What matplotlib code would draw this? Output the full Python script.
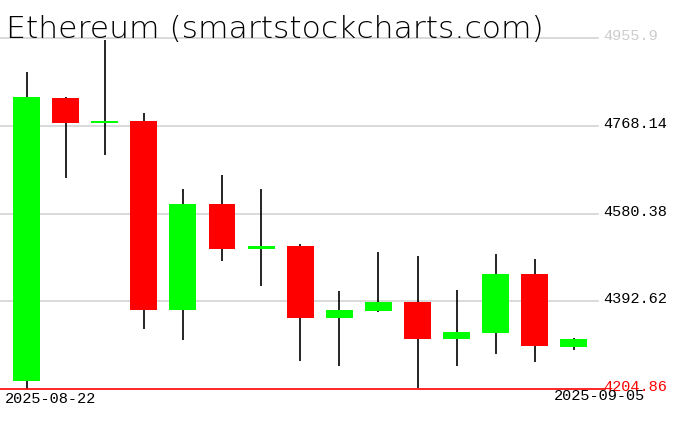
import matplotlib
matplotlib.use("Agg")
import matplotlib.pyplot as plt
import matplotlib.transforms as mtransforms
from matplotlib import font_manager

# Data
dates = ["2025-08-22", "2025-08-23", "2025-08-24", "2025-08-25", "2025-08-26",
         "2025-08-27", "2025-08-28", "2025-08-29", "2025-08-30", "2025-08-31",
         "2025-09-01", "2025-09-02", "2025-09-03", "2025-09-04", "2025-09-05"]
opens = [4223.3, 4827.6, 4774.5, 4778.5, 4375.1, 4601.0, 4504.8, 4511.2,
         4358.0, 4372.9, 4391.5, 4313.1, 4325.9, 4451.4, 4296.0]
closes = [4829.8, 4774.8, 4779.0, 4375.1, 4601.0, 4504.8, 4511.2, 4358.0,
          4374.4, 4391.5, 4313.1, 4327.4, 4451.4, 4298.1, 4312.4]
highs = [4883.2, 4829.0, 4951.0, 4795.6, 4633.1, 4663.0, 4633.1, 4515.5,
         4415.7, 4499.1, 4489.9, 4417.8, 4494.1, 4483.4, 4313.5]
lows = [4204.86, 4657.3, 4706.4, 4334.4, 4310.9, 4479.8, 4426.4, 4266.0,
        4255.3, 4370.8, 4208.3, 4255.3, 4281.0, 4263.9, 4289.6]
levels = [4955.9, 4768.14, 4580.38, 4392.62, 4204.86]
level_labels = ["4955.9", "4768.14", "4580.38", "4392.62", "4204.86"]
title = "Ethereum (smartstockcharts.com)"

def weight_of(f):
    return f.weight if isinstance(f.weight, int) else font_manager.weight_dict.get(f.weight, 400)

# pick a thin font for the title if one is installed
thin_font = None
for fam, maxw in [("DejaVu Sans", 250), ("Roboto", 300), ("Lato", 300), ("Inter", 300)]:
    ws = [weight_of(f) for f in font_manager.fontManager.ttflist
          if f.name == fam and f.style == "normal" and weight_of(f) <= maxw]
    if ws:
        thin_font = (fam, min(ws))
        break
if thin_font is None:
    thin_font = ("DejaVu Sans", 400)

W, H = 676, 431
fig = plt.figure(figsize=(W / 100, H / 100), dpi=100)
ax_left, ax_right = 0, 600
ax_top, ax_bot = 39, 390.3
ax = fig.add_axes([ax_left / W, 1 - ax_bot / H, (ax_right - ax_left) / W, (ax_bot - ax_top) / H])
ax.set_xlim(-26.5 / 39.1, (600 - 26.5) / 39.1)
ax.set_ylim(levels[-1], levels[0])
ax.axis("off")

ytr = ax.get_yaxis_transform()
# Grid lines
for lv in levels[:-1]:
    ax.plot([0, 0.997], [lv, lv], transform=ytr, color="#d3d3d3",
            lw=1.2, zorder=0, clip_on=False)
ax.plot([0, 1.008], [levels[-1], levels[-1]], transform=ytr,
        color="#ff0000", lw=1.2, zorder=5, clip_on=False)

bw = 0.69
for i, (o, c, h, l) in enumerate(zip(opens, closes, highs, lows)):
    col = "#00ff00" if c >= o else "#ff0000"
    ax.plot([i, i], [l, h], color="black", lw=1.2, zorder=2, clip_on=False,
            solid_capstyle="butt")
    lo, hi = min(o, c), max(o, c)
    ax.bar(i, hi - lo, bottom=lo, width=bw, color=col, zorder=3,
           linewidth=0, clip_on=False)

mono = "Liberation Mono"
label_colors = ["#cccccc", "black", "black", "black", "#ff0000"]
lab_tr = mtransforms.offset_copy(ytr, fig=fig, x=0, y=-1, units="dots")
for lv, txt, lc in zip(levels, level_labels, label_colors):
    ax.text(603 / 600, lv, txt, transform=lab_tr, ha="left", va="baseline",
            fontsize=11, family=mono, color=lc, clip_on=False)

fig.text(5 / W, 1 - 392 / H, dates[0], ha="left", va="top", fontsize=11,
         family=mono, color="black")
fig.text(645 / W, 1 - 389 / H, dates[-1], ha="right", va="top", fontsize=11,
         family=mono, color="black")

# title: cap height ~22 px, width ~537 px in the reference
cap_ratio = 0.729 if thin_font[0] == "DejaVu Sans" else 0.711
fs = 22 / cap_ratio * 72 / 100
t = fig.text(6 / W, 1 - 37.5 / H, title, ha="left", va="baseline", fontsize=fs,
             family=thin_font[0], fontweight=thin_font[1], color="black")
r = fig.canvas.get_renderer()
wpx = t.get_window_extent(renderer=r).width
fs_w = fs * 537 / wpx
t.set_fontsize(min(max(fs, fs_w), fs * 1.06))

fig.savefig("out.png", dpi=100, facecolor="white")
